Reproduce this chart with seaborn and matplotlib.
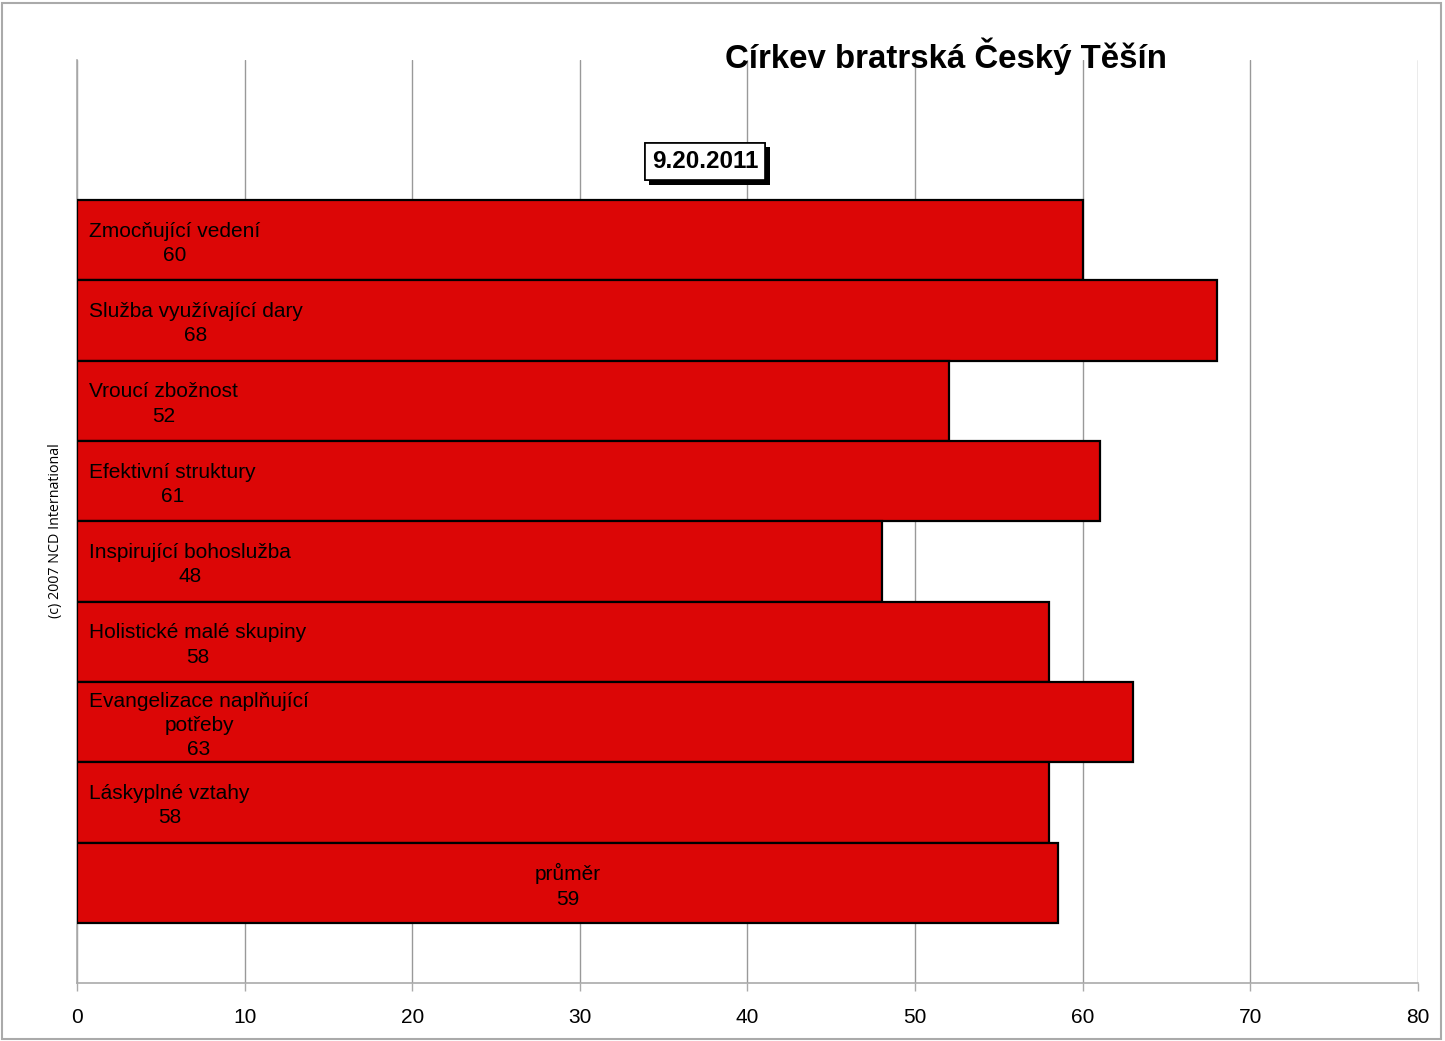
import matplotlib
matplotlib.use("Agg")
import matplotlib.pyplot as plt
import matplotlib.patheffects as pe
from matplotlib.patches import Rectangle
import seaborn as sns
import pandas as pd

# Church health characteristics and their scores
categories = [
    "Zmocňující vedení",
    "Služba využívající dary",
    "Vroucí zbožnost",
    "Efektivní struktury",
    "Inspirující bohoslužba",
    "Holistické malé skupiny",
    "Evangelizace naplňující\npotřeby",
    "Láskyplné vztahy",
    "průměr",
]
scores = [60, 68, 52, 61, 48, 58, 63, 58, 58.5]
x_ticks = [0, 10, 20, 30, 40, 50, 60, 70, 80]

title = "Církev bratrská Český Těšín"
date_label = "9.20.2011"
copyright_label = "(c) 2007 NCD International"

sns.set_theme(style="white")
plt.rcParams["font.family"] = ["Liberation Sans", "DejaVu Sans"]

df = pd.DataFrame({"category": categories, "score": scores})

fig = plt.figure(figsize=(14.45, 10.41), dpi=100)
ax = fig.add_axes([0.05329, 0.05572, 0.98131 - 0.05329, 0.94236 - 0.05572])

sns.barplot(data=df, x="score", y="category", orient="h", color="#DC0606",
            saturation=1, width=1.0, edgecolor="black", linewidth=1.6, ax=ax,
            zorder=3)

ax.set_xlim(0, 80)
ax.set_ylim(9.247, -2.243)
ax.set_xticks(x_ticks)
ax.set_xticklabels([str(t) for t in x_ticks], fontsize=15)
ax.set_yticks([])
ax.set_xlabel("")
ax.set_ylabel("")
ax.xaxis.grid(True, color="#999999", linewidth=1.0, zorder=0)
ax.set_axisbelow(True)
for side in ("top", "right"):
    ax.spines[side].set_visible(False)
for side in ("left", "bottom"):
    ax.spines[side].set_color("#aaaaaa")
    ax.spines[side].set_linewidth(1.2)
ax.tick_params(axis="x", bottom=True, length=6, width=1.0, color="#aaaaaa",
               pad=12, labelcolor="black")

# Labels inside the bars: name and value
for i, (name, val) in enumerate(zip(categories, scores)):
    text = f"{name}\n{int(val + 0.5)}"
    if i == len(categories) - 1:
        ax.text(val / 2, i + 0.04, text, ha="center", va="center",
                multialignment="center", fontsize=15, color="black", zorder=5,
                linespacing=1.35)
    else:
        ax.text(0.72, i + 0.04, text, ha="left", va="center",
                multialignment="center", fontsize=15, color="black", zorder=5,
                linespacing=1.35)

fig.text(0.6547, 0.9455, title, ha="center", va="center", fontsize=23.8,
         fontweight="bold", color="black")

dt = fig.text(0.4879, 0.8447, date_label, ha="center", va="center",
              fontsize=17.5, fontweight="bold", color="black",
              bbox=dict(boxstyle="square,pad=0.3", facecolor="white",
                        edgecolor="black", linewidth=1.2))
dt.get_bbox_patch().set_path_effects(
    [pe.withSimplePatchShadow(offset=(3, -3), shadow_rgbFace="black", alpha=1.0),
     pe.Normal()])

fig.text(0.0385, 0.49, copyright_label, rotation=90, ha="center", va="center",
         fontsize=10.3, family=["Open Sans", "DejaVu Sans"], color="black")

# Outer frame
fig.patches.append(Rectangle((0.0015, 0.002), 0.9955, 0.9955,
                             transform=fig.transFigure, fill=False,
                             edgecolor="#aaaaaa", linewidth=1.5))

fig.savefig("out.png", dpi=100)
